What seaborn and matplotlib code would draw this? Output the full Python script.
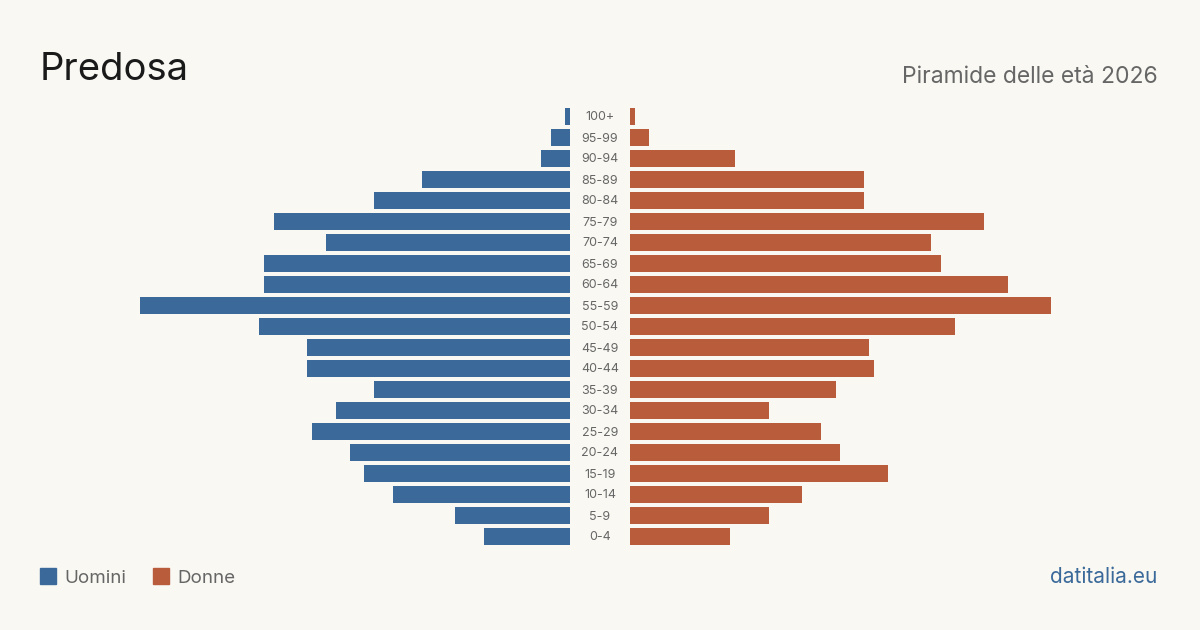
import matplotlib
matplotlib.use("Agg")
import matplotlib.pyplot as plt
import seaborn as sns
import pandas as pd
from matplotlib.patches import Rectangle

ages = ["100+", "95-99", "90-94", "85-89", "80-84", "75-79", "70-74", "65-69",
        "60-64", "55-59", "50-54", "45-49", "40-44", "35-39", "30-34", "25-29",
        "20-24", "15-19", "10-14", "5-9", "0-4"]
men = [1, 4, 6, 31, 41, 62, 51, 64, 64, 90, 65, 55, 55, 41, 49, 54, 46, 43, 37, 24, 18]
women = [1, 4, 22, 49, 49, 74, 63, 65, 79, 88, 68, 50, 51, 43, 29, 40, 44, 54, 36, 29, 21]

BG = "#f9f8f3"
BLUE = "#3b6a9a"
RED = "#b85c3c"
GREY = "#666666"

sns.set_theme(style="white")
plt.rcParams["font.family"] = ["Inter", "DejaVu Sans"]

df = pd.DataFrame({"age": ages, "men": men, "women": women})

W, H = 1200, 630
fig = plt.figure(figsize=(12, 6.3), dpi=100, facecolor=BG)

px_per_unit = 4.78
top_px, bot_px = 106, 547
ax_h = (bot_px - top_px) / H
ax_b = 1 - bot_px / H

left_l, left_r = 100, 570
right_l, right_r = 630, 1100
axL = fig.add_axes([left_l / W, ax_b, (left_r - left_l) / W, ax_h])
axR = fig.add_axes([right_l / W, ax_b, (right_r - right_l) / W, ax_h])

sns.barplot(data=df, x="men", y="age", ax=axL, color=BLUE, orient="h",
            width=0.81, saturation=1, linewidth=0)
sns.barplot(data=df, x="women", y="age", ax=axR, color=RED, orient="h",
            width=0.81, saturation=1, linewidth=0)

axL.set_xlim((left_r - left_l) / px_per_unit, 0)
axR.set_xlim(0, (right_r - right_l) / px_per_unit)
for ax in (axL, axR):
    ax.set_ylim(len(ages) - 0.5, -0.5)
    ax.set_facecolor("none")
    ax.axis("off")

# age labels in the center gap
for i, a in enumerate(ages):
    y_px = top_px + (i + 0.5) * (bot_px - top_px) / len(ages) + 1
    fig.text(600 / W, 1 - y_px / H, a, ha="center", va="center",
             fontsize=9, color=GREY)

fig.text(40 / W, 1 - 80 / H, "Predosa", ha="left", va="baseline",
         fontsize=27.5, color="#1a1a1a")
fig.text(1158 / W, 1 - 83 / H, "Piramide delle età 2026", ha="right",
         va="baseline", fontsize=16.5, color=GREY)

# legend
fig.patches.append(Rectangle((40 / W, 1 - 584 / H), 16 / W, 16 / H,
                             transform=fig.transFigure, color=BLUE))
fig.text(64 / W, 1 - 583 / H, "Uomini", ha="left", va="baseline",
         fontsize=13.5, color=GREY)
fig.patches.append(Rectangle((153 / W, 1 - 584 / H), 16 / W, 16 / H,
                             transform=fig.transFigure, color=RED))
fig.text(177 / W, 1 - 583 / H, "Donne", ha="left", va="baseline",
         fontsize=13.5, color=GREY)

fig.text(1157 / W, 1 - 583 / H, "datitalia.eu", ha="right", va="baseline",
         fontsize=15, color=BLUE)

fig.savefig("out.png", dpi=100, facecolor=BG)
